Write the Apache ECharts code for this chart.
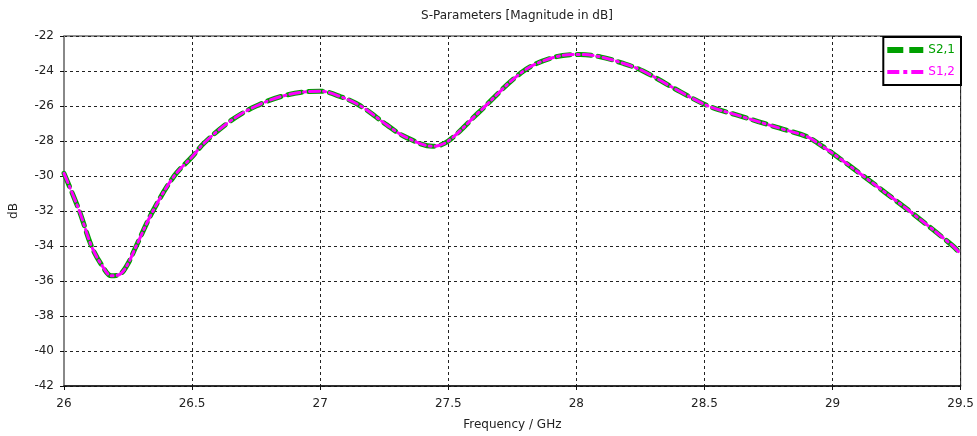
<!DOCTYPE html>
<html>
<head>
<meta charset="utf-8">
<script src="https://cdn.jsdelivr.net/npm/echarts@6/dist/echarts.min.js"></script>
<style>
  html, body { margin: 0; padding: 0; background: #fff; }
  #chart { width: 977px; height: 436px; }
</style>
</head>
<body>
<div id="chart"></div>
<script>
// frequency (GHz) and magnitude (dB)
const freq = [26.00, 26.06, 26.107, 26.15, 26.185, 26.22, 26.25, 26.282, 26.347, 26.43,
  26.50, 26.548, 26.65, 26.75, 26.87, 27.00, 27.08, 27.158, 27.26, 27.33,
  27.44, 27.50, 27.62, 27.794, 27.92, 28.015, 28.093, 28.184, 28.26, 28.405,
  28.515, 28.625, 28.794, 28.90, 28.95, 29.00, 29.12, 29.30, 29.47, 29.50];
const s21 = [-29.85, -32.0, -34.0, -35.15, -35.7, -35.6, -35.0, -34.0, -32.0, -30.0,
  -28.9, -28.1, -26.85, -26.0, -25.37, -25.15, -25.47, -26.0, -27.08, -27.75,
  -28.3, -28.0, -26.35, -24.0, -23.19, -23.06, -23.19, -23.57, -24.0, -25.18,
  -26.0, -26.51, -27.27, -27.75, -28.2, -28.7, -30.0, -32.0, -34.0, -34.47];
const s12 = s21.slice();
const seriesNames = ['S2,1', 'S1,2'];

const pairs = vals => freq.map((f, i) => [f, vals[i]]);
const font = 'DejaVu Sans';

const chart = echarts.init(document.getElementById('chart'));
chart.setOption({
  animation: false,
  textStyle: { fontFamily: font },
  title: {
    text: 'S-Parameters [Magnitude in dB]',
    left: 512, top: 5, textAlign: 'center',
    textStyle: { fontFamily: font, fontSize: 12, fontWeight: 'normal', color: '#222' }
  },
  grid: { left: 62, right: 15, top: 36, bottom: 49, show: true, borderColor: '#222', borderWidth: 1 },
  legend: {
    right: 16, top: 37, orient: 'vertical', itemGap: 10, itemWidth: 36, itemHeight: 6,
    backgroundColor: '#fff', borderColor: '#000', borderWidth: 2, padding: [7, 6, 7, 4],
    data: [
      { name: seriesNames[0], textStyle: { color: '#00a000' },
        icon: 'path://M0,0 h16 v6 h-16 Z M22,0 h14 v6 h-14 Z' },
      { name: seriesNames[1], textStyle: { color: '#ff00ff' },
        icon: 'path://M0,1 h12 v4 h-12 Z M16,1 h4 v4 h-4 Z M24,1 h12 v4 h-12 Z' }
    ],
    textStyle: { fontFamily: font, fontSize: 12 }
  },
  xAxis: {
    type: 'value', min: 26, max: 29.5, interval: 0.5,
    name: 'Frequency / GHz', nameLocation: 'middle', nameGap: 33,
    nameTextStyle: { fontFamily: font, fontSize: 12, color: '#222' },
    axisLine: { lineStyle: { color: '#111', width: 1.5 } },
    axisTick: { show: true, length: 4, lineStyle: { color: '#111' } },
    axisLabel: { color: '#222', fontSize: 12, margin: 12, fontFamily: font },
    splitLine: { show: true, lineStyle: { type: [3, 3], color: '#222', width: 1 } }
  },
  yAxis: {
    type: 'value', min: -42, max: -22, interval: 2,
    name: 'dB', nameLocation: 'middle', nameGap: 44, nameRotate: 90,
    nameTextStyle: { fontFamily: font, fontSize: 12, color: '#222' },
    axisLine: { show: true, lineStyle: { color: '#888', width: 2 } },
    axisTick: { show: true, length: 4, lineStyle: { color: '#111' } },
    axisLabel: { color: '#222', fontSize: 12, margin: 10, fontFamily: font },
    splitLine: { show: true, lineStyle: { type: [3, 3], color: '#222', width: 1 } }
  },
  series: [
    {
      name: seriesNames[0], type: 'line', data: pairs(s21), smooth: 0.35,
      showSymbol: false, symbol: 'none', z: 3,
      lineStyle: { color: '#00a000', width: 5, type: [14, 7], cap: 'round' },
      itemStyle: { color: '#00a000' }
    },
    {
      name: seriesNames[1], type: 'line', data: pairs(s12), smooth: 0.35,
      showSymbol: false, symbol: 'none', z: 4,
      lineStyle: { color: '#ff00ff', width: 3, type: [10, 4, 2, 4], cap: 'round' },
      itemStyle: { color: '#ff00ff' }
    }
  ]
});
</script>
</body>
</html>
